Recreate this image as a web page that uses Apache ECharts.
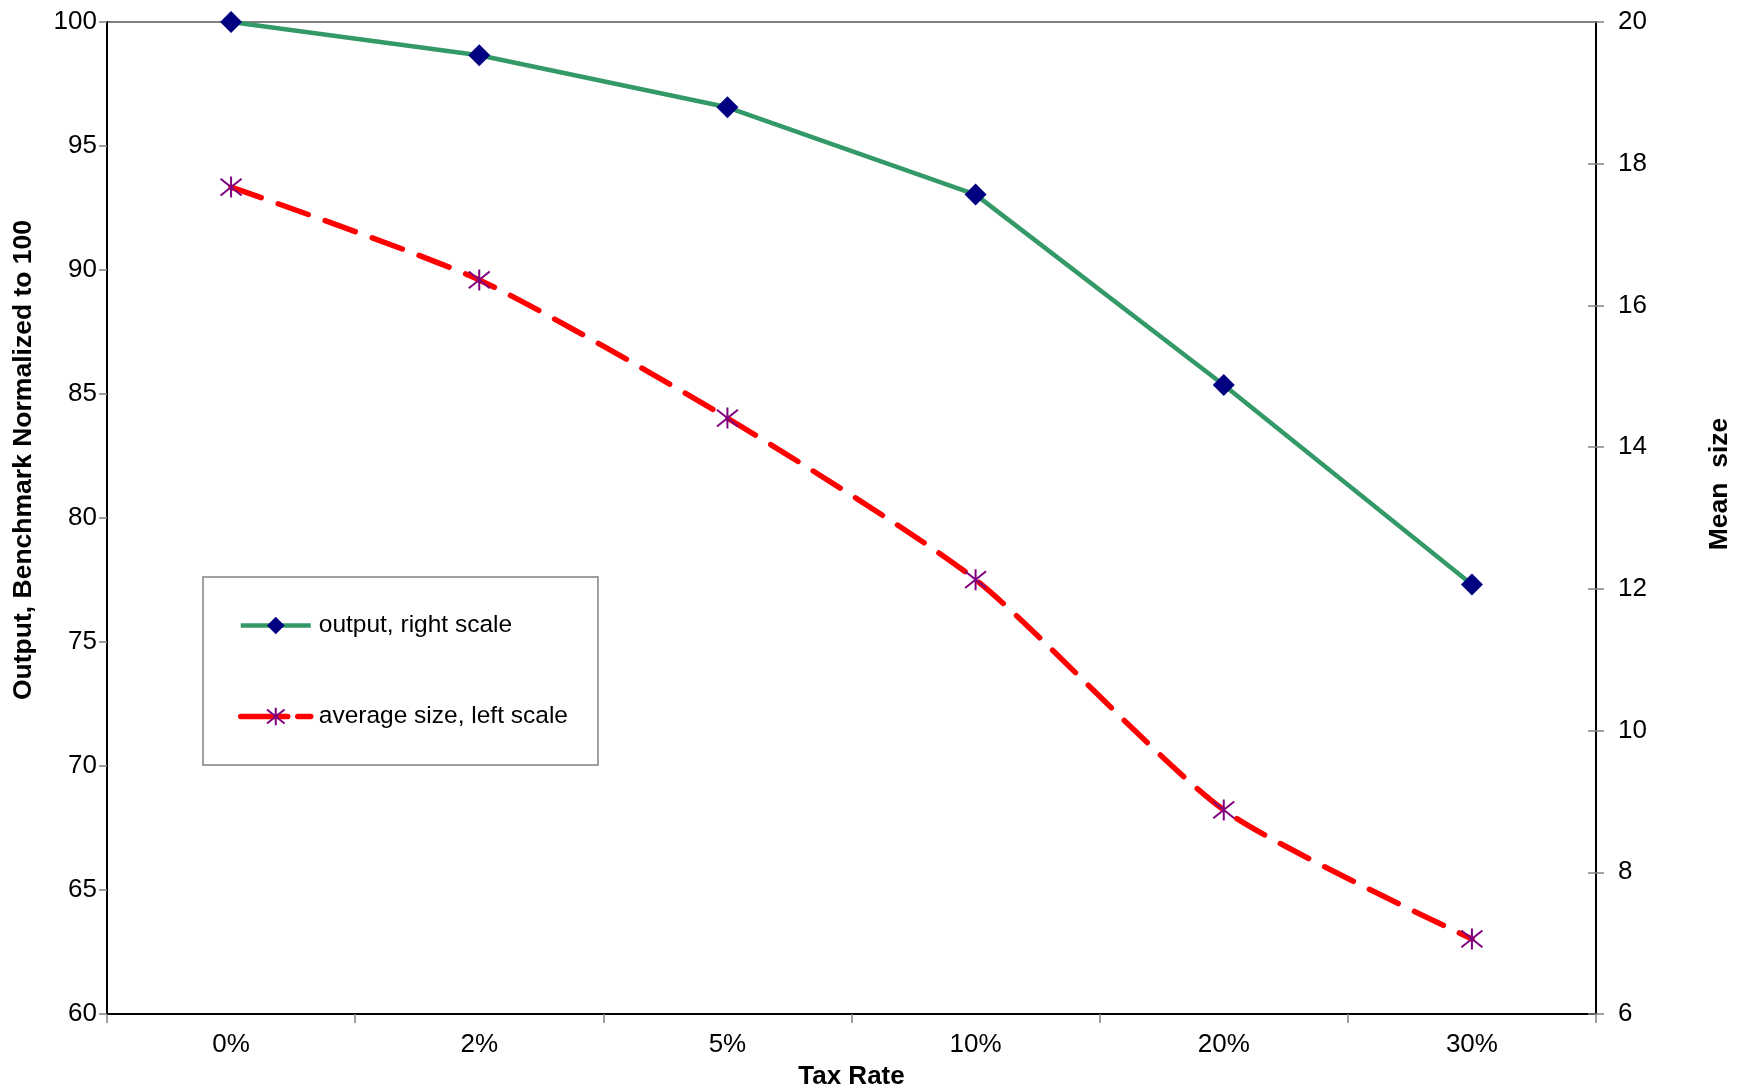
<!DOCTYPE html>
<html>
<head>
<meta charset="utf-8">
<script src="https://cdn.jsdelivr.net/npm/echarts@6/dist/echarts.min.js"></script>
<style>html,body{margin:0;padding:0;background:#fff}#c{width:1737px;height:1092px}</style>
</head>
<body>
<div id="c"></div>
<script>
const categories = ['0%', '2%', '5%', '10%', '20%', '30%'];
const outputValues = [100, 98.66, 96.56, 93.04, 85.36, 77.32];
const avgSizeValues = [17.67, 16.36, 14.41, 12.13, 8.88, 7.06];
const leftTicks = {min: 60, max: 100, interval: 5};
const rightTicks = {min: 6, max: 20, interval: 2};
const outputName = 'output, right scale';
const sizeName = 'average size, left scale';

const FONT = 'Liberation Sans, Arial, sans-serif';
const chart = echarts.init(document.getElementById('c'));
const asterisk = 'path://M0,-10L0,10M-8,-8L8,8M-8,8L8,-8';

chart.setOption({
  animation: false,
  backgroundColor: '#fff',
  textStyle: {fontFamily: FONT},
  grid: {left: 107, right: 141, top: 22, bottom: 78, containLabel: false, outerBoundsMode: 'none',
         show: true, borderColor: '#808080', borderWidth: 2},
  legend: {
    orient: 'vertical', left: 203, top: 577,
    padding: [36, 30, 36, 35],
    itemGap: 66, itemWidth: 70, itemHeight: 22,
    backgroundColor: '#fff', borderColor: '#808080', borderWidth: 1.5,
    textStyle: {fontFamily: FONT, fontSize: 24.5, color: '#000', padding: [0,0,0,3]},
    data: [
      {name: outputName, lineStyle: {width: 4.5, color: '#339966', type: 'solid'}},
      {name: sizeName, lineStyle: {width: 5.5, color: '#FF0000', type: [47, 10], cap: 'round'}}
    ]
  },
  xAxis: {
    type: 'category', data: categories, boundaryGap: true,
    name: 'Tax Rate', nameLocation: 'middle', nameGap: 50,
    nameTextStyle: {fontFamily: FONT, fontSize: 26, fontWeight: 'bold', color: '#000'},
    axisLine: {lineStyle: {color: '#000', width: 2}},
    axisTick: {show: true, length: 9, lineStyle: {color: '#808080', width: 1.5}},
    axisLabel: {fontFamily: FONT, fontSize: 26, color: '#000', margin: 18},
    splitLine: {show: false}
  },
  yAxis: [
    {
      type: 'value', position: 'left', min: leftTicks.min, max: leftTicks.max, interval: leftTicks.interval,
      axisLine: {show: true, lineStyle: {color: '#000', width: 2}},
      axisTick: {show: true, length: 8, lineStyle: {color: '#808080', width: 1.5}},
      axisLabel: {fontFamily: FONT, fontSize: 26, color: '#000', margin: 10},
      splitLine: {show: false}
    },
    {
      type: 'value', position: 'right', min: rightTicks.min, max: rightTicks.max, interval: rightTicks.interval,
      axisLine: {show: true, lineStyle: {color: '#000', width: 2}},
      axisTick: {show: true, length: 8, lineStyle: {color: '#808080', width: 1.5}},
      axisLabel: {fontFamily: FONT, fontSize: 26, color: '#000', margin: 22},
      splitLine: {show: false}
    },
    {
      type: 'value', position: 'right', min: rightTicks.min, max: rightTicks.max, interval: rightTicks.interval,
      axisLine: {show: false},
      axisTick: {show: true, inside: true, length: 8, lineStyle: {color: '#808080', width: 1.5}},
      axisLabel: {show: false},
      splitLine: {show: false}
    }
  ],
  graphic: [
    {type: 'text', rotation: Math.PI / 2, x: 24, y: 460,
     style: {text: 'Output, Benchmark Normalized to 100', fontFamily: FONT, fontSize: 26.5, fontWeight: 'bold',
             fill: '#000', align: 'center', verticalAlign: 'middle'}},
    {type: 'text', rotation: Math.PI / 2, x: 1720, y: 484,
     style: {text: 'Mean  size', fontFamily: FONT, fontSize: 26.5, fontWeight: 'bold',
             fill: '#000', align: 'center', verticalAlign: 'middle'}}
  ],
  series: [
    {
      name: outputName, type: 'line', yAxisIndex: 0, data: outputValues,
      lineStyle: {color: '#339966', width: 4.5},
      symbol: 'diamond', symbolSize: 22,
      itemStyle: {color: '#000080', borderWidth: 0},
      z: 3
    },
    {
      name: sizeName, type: 'line', yAxisIndex: 1, data: avgSizeValues,
      smooth: 0.22,
      lineStyle: {color: '#FF0000', width: 5.5, type: [32, 18], cap: 'round'},
      symbol: asterisk, symbolSize: 21,
      itemStyle: {color: 'rgba(0,0,0,0)', borderColor: '#800080', borderWidth: 2},
      z: 2
    }
  ]
});
</script>
</body>
</html>
